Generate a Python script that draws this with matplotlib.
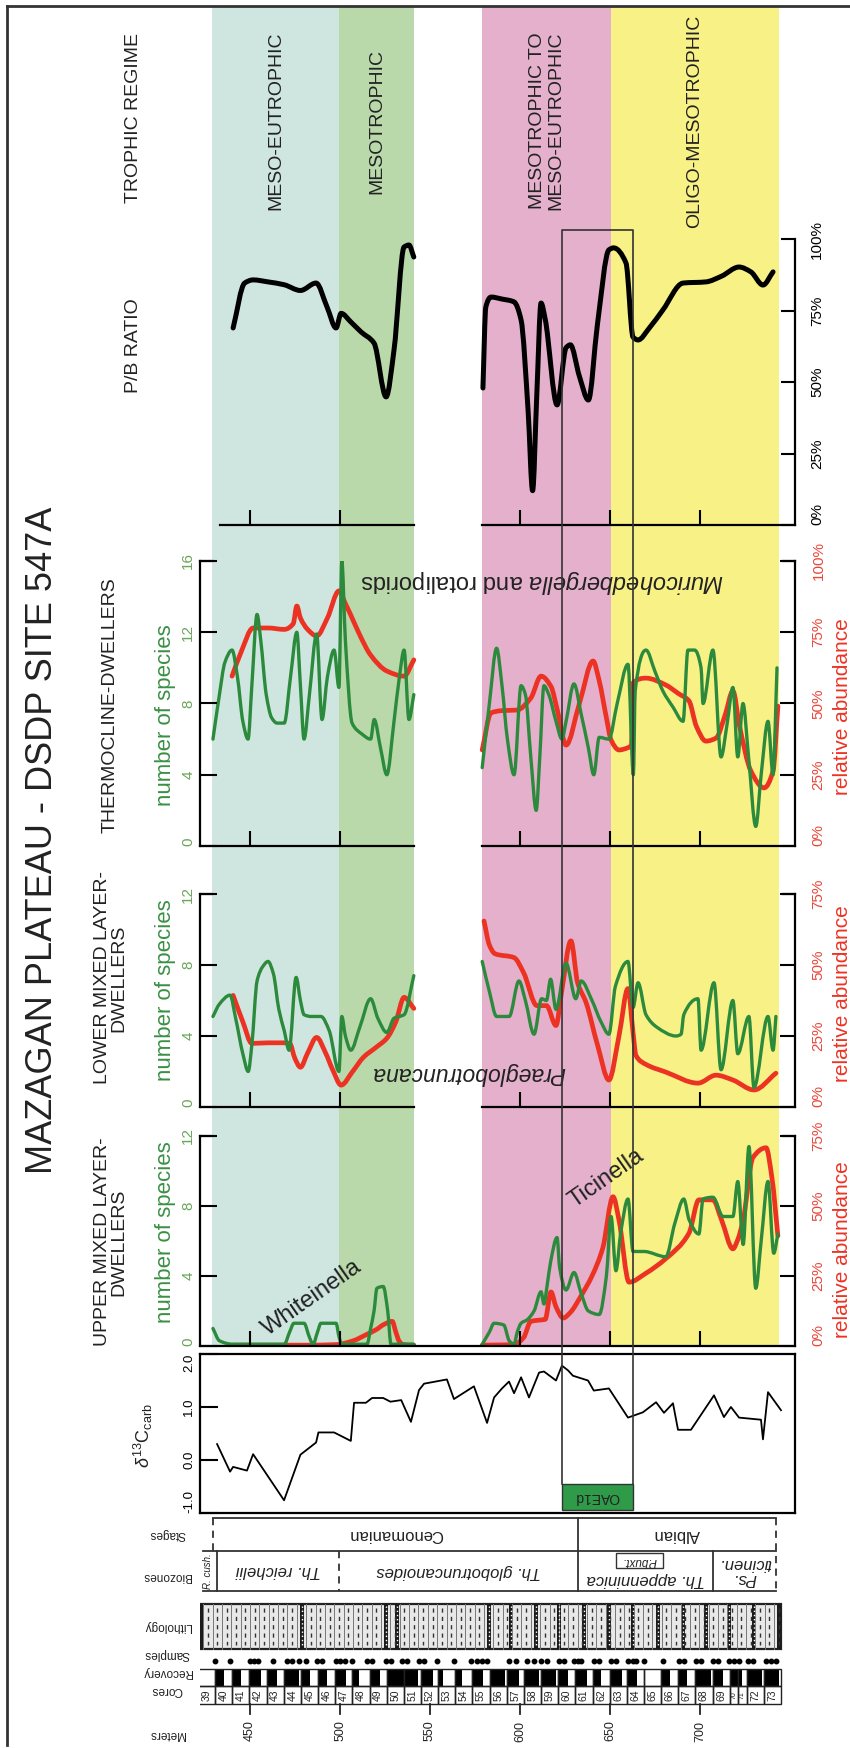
import numpy as np
import matplotlib.pyplot as plt
from matplotlib.patches import Rectangle, PathPatch
from matplotlib.path import Path
from matplotlib.lines import Line2D

plt.rcParams['font.family'] = ['Liberation Sans', 'DejaVu Sans']
plt.rcParams['mathtext.fontset'] = 'custom'
plt.rcParams['mathtext.rm'] = 'Liberation Sans'
plt.rcParams['mathtext.it'] = 'Liberation Sans:italic'

W, H = 850, 1748                 # output size in px (dpi 100)
D_MIN, D_MAX = 422.2, 752.8      # depth range shown across every track (m)
GAP = (541.0, 578.9)             # interval without foram data
DEPTH_TICKS = [450, 500, 600, 650, 700]
METER_TICKS = [450, 500, 550, 600, 650, 700]

GREEN = '#2b8a3c'
GREEN_LBL = '#3a9045'
GREEN_TICK = '#6aa55a'
RED = '#ec3323'
RED_LBL = '#e8473b'
INK = '#222222'

# =====================
# Trophic regime bands
# =====================
band_names = ['MESO-EUTROPHIC', 'MESOTROPHIC', '', 'MESOTROPHIC TO\nMESO-EUTROPHIC', 'OLIGO-MESOTROPHIC']
band_top = [428.9, 499.4, 541.0, 578.9, 650.6]
band_base = [499.4, 541.0, 578.9, 650.6, 743.9]
band_colors = ['#cfe5df', '#bad9ab', '#ffffff', '#e4b0cc', '#f8f186']

# =====================
# P/B ratio (%)
# =====================
pb_1 = [(440.6, 68.9), (447, 84.6), (451.7, 85.7), (460, 85), (469, 84), (478, 82), (486.7, 84.6),
        (492.8, 76.2), (497.8, 68.9), (500.6, 74), (506, 71), (511.7, 67.5), (518.9, 63.6),
        (525.6, 44.8), (530, 61.2), (535.6, 97.2), (538.3, 97.9), (541, 93.7)]
pb_2 = [(579.4, 47.9), (581, 76.2), (583.9, 79.7), (590, 79), (596.7, 78), (600.6, 71.7), (604.5, 40),
        (607, 12), (609.3, 45), (611.7, 77.6), (614, 72), (620.6, 42), (625.6, 62), (628, 63),
        (633, 52), (638, 43.7), (643, 70), (649.4, 96.2), (652, 96.9), (658.9, 91.6), (662.8, 65.7),
        (665.6, 64.7), (672, 69), (679.4, 75.2), (690.6, 84.6), (703.3, 85), (712, 87),
        (721.7, 90.2), (728.3, 88.5), (735, 83.9), (740.6, 88.5)]

# =====================
# Thermocline-dwellers
# =====================
th_n_1 = [(429.4, 6.0), (433, 8.5), (436, 10.3), (440, 11.0), (443, 9.5), (446, 7.0), (448.9, 6.0),
          (451, 9.0), (453.9, 13.0), (456, 11.5), (459, 8.5), (462, 7.2), (465, 6.9), (469, 6.9),
          (472.5, 9.5), (476, 12.0), (478, 9.0), (480, 6.0), (483, 8.5), (487, 11.9), (490, 7.1),
          (493, 9.5), (496.7, 11.0), (499.4, 8.9), (501, 16.0), (503, 11.5), (506.7, 6.9),
          (512, 6.3), (517, 6.0), (519, 7.1), (522.5, 5.5), (526, 4.0), (530, 7.0), (533, 9.5),
          (535.6, 11.0), (538.3, 7.1), (541, 8.5)]
th_n_2 = [(579, 4.4), (583, 8.0), (587, 11.1), (590, 9.0), (593, 6.0), (596.7, 4.0), (600.6, 9.0),
          (603, 8.5), (606, 5.0), (609, 2.0), (611, 5.0), (613.3, 9.0), (616, 8.5), (620, 7.0),
          (623.3, 6.0), (625.6, 7.0), (630, 9.1), (634, 7.4), (638, 5.5), (641, 4.0), (644, 6.1),
          (649.4, 6.0), (654, 8.0), (660, 10.2), (663, 4.0), (664, 8.7), (670, 11.0), (675, 9.8),
          (679.4, 8.7), (685, 7.8), (690.6, 7.0), (693.3, 11.0), (697, 11.0), (700.6, 10.0),
          (701.7, 8.0), (707.2, 11.0), (711.7, 5.0), (715, 6.8), (718.3, 8.9), (721, 5.0),
          (723.9, 8.0), (727, 5.0), (731, 1.1), (734, 4.0), (737.8, 7.0), (740.6, 4.0), (742.8, 10.0)]
th_p_1 = [(440, 59.6), (445, 68), (451.7, 76.5), (460, 76.5), (469, 76), (474, 78), (476, 84.2),
          (478, 80), (482, 76), (487, 73.7), (493, 80), (499.4, 89.5), (503, 85), (506, 81),
          (511, 74), (517, 67), (526, 61.4), (535.6, 59.6), (541, 65.3)]
th_p_2 = [(579, 33.7), (583.9, 46.7), (590, 47.5), (598.3, 47.7), (606, 51.9), (611.7, 59.6),
          (617.2, 56), (621, 47), (625.6, 35.4), (633, 50), (640.6, 64.9), (644, 58), (648, 45),
          (650.6, 37.2), (655, 33.7), (660, 34.5), (662, 35.5), (662.8, 57.2), (670, 58.9),
          (681, 56.5), (688, 53.5), (693.9, 50.9), (698, 42), (703.3, 36.8), (709, 37.9),
          (714, 46), (718.3, 54.4), (722, 42), (728.3, 26.3), (735.6, 20.4), (740.6, 26.3), (743.3, 49.1)]

# =====================
# Lower mixed layer-dwellers
# =====================
lo_n_1 = [(429.4, 5.1), (433, 5.8), (438.9, 6.3), (442, 5.0), (446, 3.0), (449, 2.0), (451, 3.5),
          (453.9, 7.1), (457, 7.9), (460, 8.2), (463, 7.5), (466, 5.5), (469, 4.3), (471.7, 3.2),
          (475.6, 7.3), (478, 6.0), (480, 5.2), (484, 5.1), (489.4, 5.1), (494, 4.3), (499.4, 2.0),
          (501, 5.1), (503, 4.0), (506, 3.2), (511, 4.5), (517, 6.1), (521, 5.0), (526, 4.2),
          (530, 5.0), (535.6, 5.2), (541, 7.4)]
lo_n_2 = [(579, 8.2), (583, 6.5), (587, 5.1), (594, 5.1), (599.4, 7.1), (603, 6.0), (607.8, 4.1),
          (612, 6.1), (614.7, 6.0), (617, 7.2), (620, 5.5), (625.6, 8.1), (631, 6.1), (634, 7.1),
          (640, 6.0), (645, 4.8), (649.4, 4.1), (653, 6.8), (660, 8.2), (662.8, 5.6), (665.6, 7.0),
          (670, 5.2), (676, 4.5), (686.7, 4.0), (689.5, 4.1), (691, 5.2), (698.9, 6.1), (700.6, 3.2),
          (707.8, 7.0), (711.7, 2.1), (718.3, 6.0), (721, 3.0), (727.2, 5.1), (730, 1.1),
          (737.8, 5.1), (740.6, 3.2), (742.2, 5.1)]
lo_p_1 = [(440.6, 39.3), (446, 30), (451, 22.4), (460, 22.6), (469, 22.6), (472, 22.4), (475, 17),
          (478, 14.0), (482, 19), (487, 24.5), (492, 19), (496, 13), (500.6, 7.7), (507, 12.5),
          (513, 17.5), (520, 21), (526, 24.2), (531, 30), (535.6, 38.6), (541, 34.7)]
lo_p_2 = [(580, 65.5), (583, 57), (586, 54), (596.7, 52.6), (602, 47.3), (609.4, 35.7), (614.7, 35.7),
          (620, 28.7), (623, 40), (628.3, 58.5), (632, 43.8), (636.7, 36.8), (643, 22), (649.4, 9.5),
          (655, 25), (660, 41.7), (662.8, 26.3), (664.4, 18.2), (670, 15), (681, 12.3), (698.9, 8.4),
          (708.9, 11.2), (718.3, 9.5), (730, 6.0), (742.2, 11.9)]

# =====================
# Upper mixed layer-dwellers
# =====================
up_n_1 = [(429.4, 1.0), (433, 0.3), (440.6, 0.1), (469, 0.1), (472, 0.8), (474.4, 1.3), (480, 1.3),
          (483, 0.5), (485, 0.1), (487.5, 0.8), (489.4, 1.3), (497.8, 1.3), (499.5, 0.5), (501, 0.1),
          (515, 0.1), (517, 1.0), (518.9, 2.0), (520.5, 3.3), (524, 3.4), (526.5, 2.0), (528.3, 0.1),
          (541, 0.1)]
up_n_2 = [(579, 0.1), (583, 0.8), (585.6, 1.3), (591, 1.2), (594, 0.3), (596.7, 0.1), (598.5, 0.8),
          (600.6, 1.3), (604, 1.5), (607.8, 2.0), (611.7, 3.1), (613.3, 2.4), (615, 3.4), (617, 4.8),
          (620.6, 6.2), (622, 4.5), (625.6, 3.2), (630, 4.2), (634, 3.0), (638, 2.0), (644, 1.8),
          (648, 4.0), (650.6, 7.4), (653.3, 4.3), (656, 6.5), (660, 8.4), (662.8, 5.4), (668.9, 5.4),
          (681, 5.1), (686, 7.0), (691, 8.4), (694, 7.2), (699.4, 6.4), (701.7, 8.4), (707.2, 8.5),
          (712.8, 7.4), (718.3, 7.4), (721, 9.4), (724, 5.8), (727.2, 11.4), (731, 3.3), (734, 6.0),
          (737.8, 9.4), (741, 5.3), (743.3, 6.4)]
up_p_1 = [(440.6, 0.3), (480, 0.3), (497.8, 0.5), (507, 1.8), (515, 4.2), (520, 5.8), (524.4, 7.7),
          (529, 8.8), (531, 5.0), (532.8, 1.8), (535, 0.5), (541, 0.3)]
up_p_2 = [(579, 0.3), (590, 0.4), (596.7, 0.5), (602, 3), (606, 8.8), (610, 9.2), (614, 9.5),
          (617.2, 19.3), (620, 14), (624, 10), (628, 12), (634, 18), (640, 25), (646, 35),
          (651.7, 53.3), (655, 45), (660.6, 22.8), (670, 26), (681, 31.2), (693.9, 40.3),
          (699.4, 52.2), (707.2, 52.2), (712, 45), (718.3, 34.7), (721, 38), (724, 45),
          (729.4, 67.3), (736.7, 70.8), (740, 60), (743.3, 39.3)]

# =====================
# d13C carb
# =====================
d13_depth = [431.7, 438.9, 440.6, 448.3, 451.7, 468.9, 478, 486.7, 488, 496.7, 506, 507.8, 514.4,
             517.8, 524, 528, 534, 539.4, 543.9, 546.7, 559.4, 563.3, 574.4, 581.7, 585.6, 590,
             593.9, 596.7, 600.6, 605, 610.6, 613.3, 620, 623.3, 626.7, 629.4, 637.8, 641, 649.4,
             660, 668.3, 675.6, 680, 685, 687.8, 695, 707.8, 713.3, 717.2, 721.7, 733.9, 735,
             737.8, 745]
d13_val = [0.30, -0.22, -0.13, -0.20, 0.11, -0.76, 0.10, 0.33, 0.52, 0.52, 0.36, 1.08, 1.08,
           1.17, 1.17, 1.10, 1.13, 0.72, 1.32, 1.44, 1.52, 1.15, 1.39, 0.70, 1.18, 1.35,
           1.48, 1.26, 1.56, 1.18, 1.65, 1.67, 1.50, 1.78, 1.69, 1.59, 1.50, 1.31, 1.35,
           0.80, 0.90, 1.09, 0.89, 1.07, 0.57, 0.57, 1.22, 0.81, 1.00, 0.80, 0.76, 0.39,
           1.28, 0.94]
OAE = (623.3, 662.8)

# =====================
# Stratigraphic columns
# =====================
stage_names = ['Cenomanian', 'Albian']
stage_top = [429.4, 632.2]
stage_base = [632.2, 742.2]
zone_names = ['Th. reichelii', 'Th. globotruncanoides', 'Th. appenninica', 'Ps.\nticinen.']
zone_top = [431.7, 499.4, 632.2, 707.2]
zone_base = [499.4, 632.2, 707.2, 742.2]
litho_beds = [478.9, 525.6, 531.7, 582.8, 595.0, 608.9, 621.7, 635.6, 649.4, 662.8,
              676.7, 690.6, 703.3, 716.1, 730.0]
samples = [430.6, 438.9, 450, 452.2, 454.4, 462.8, 470.6, 473.3, 477.2, 481.1, 487.2, 490,
           497.8, 500, 502.8, 506.7, 515, 517.8, 525.6, 528.3, 534.4, 537.2, 543.9, 546.7,
           553.9, 563.3, 572.8, 576.1, 578.9, 581.7, 593.9, 597.8, 603.9, 607.8, 611.7, 615,
           621.7, 624.4, 630, 632.2, 633.9, 641.1, 643.9, 650.6, 653.3, 660, 662.8, 664.4,
           668.9, 679.4, 688.3, 691.1, 697.8, 700.6, 707.2, 710, 716.1, 718.9, 721.7, 726.7,
           729.4, 736.7, 739.4, 742.2]
cores = list(range(39, 74))
core_top = [421.1, 430.6, 440.2, 449.7, 459.2, 468.8, 478.3, 487.8, 497.3, 506.9, 516.4, 525.9,
            535.4, 545.0, 554.5, 564.0, 573.6, 583.1, 592.6, 602.1, 611.7, 621.2, 630.7, 640.3,
            649.8, 659.3, 668.8, 678.4, 687.9, 697.4, 707.0, 716.5, 721.2, 726.0, 735.5]
core_bottom_end = 745.0
recovery = [0.0, 0.5, 0.5, 0.7, 0.6, 0.9, 0.5, 0.5, 0.6, 0.4, 0.6, 1.0, 0.8, 0.7, 0.3, 0.4, 0.6,
            0.9, 0.7, 0.9, 0.9, 0.6, 0.7, 0.5, 0.7, 0.6, 0.0, 0.5, 0.5, 0.9, 0.6, 1.0, 0.5, 0.9, 0.9]

# =====================
# Figure helpers
# =====================
fig = plt.figure(figsize=(W / 100, H / 100), dpi=100)


def axes_px(top, bot, left=200, right=795):
    return fig.add_axes([left / W, 1 - bot / H, (right - left) / W, (bot - top) / H])


def ftext(x, y, s, rot=90, **kw):
    fig.text(x / W, 1 - y / H, s, rotation=rot, ha='center', va='center', **kw)


def fline(xs, ys, **kw):
    fig.add_artist(Line2D([x / W for x in xs], [1 - y / H for y in ys], **kw))


def smooth_curve(ax, pairs, color, lw):
    # draw the read points as a monotone cubic Bezier path (like the hand-smoothed original)
    a = np.array(pairs, dtype=float)
    x, y = a[:, 0], a[:, 1]
    h = np.diff(x)
    m = np.diff(y) / h
    d = np.zeros_like(y)
    d[0], d[-1] = m[0], m[-1]
    for k in range(1, len(x) - 1):
        if m[k - 1] * m[k] > 0:
            w1 = 2 * h[k] + h[k - 1]
            w2 = h[k] + 2 * h[k - 1]
            d[k] = (w1 + w2) / (w1 / m[k - 1] + w2 / m[k])
    verts = [(x[0], y[0])]
    codes = [Path.MOVETO]
    for k in range(len(x) - 1):
        verts += [(x[k] + h[k] / 3, y[k] + d[k] * h[k] / 3),
                  (x[k + 1] - h[k] / 3, y[k + 1] - d[k + 1] * h[k] / 3),
                  (x[k + 1], y[k + 1])]
        codes += [Path.CURVE4] * 3
    ax.add_patch(PathPatch(Path(verts, codes), fc='none', ec=color, lw=lw,
                           capstyle='round', joinstyle='round'))


def rot_labels(ax, ha, first='bottom', last='center'):
    labs = ax.get_yticklabels()
    for lab in labs:
        lab.set_rotation(90)
        lab.set_va('center')
        lab.set_ha(ha)
    labs[0].set_va(first)
    labs[-1].set_va(last)


# background bands
ax_bg = axes_px(6, 1346)
ax_bg.set_xlim(D_MIN, D_MAX)
ax_bg.set_ylim(1346, 6)
ax_bg.axis('off')
ax_bg.set_zorder(0)
for name, t, b, c in zip(band_names, band_top, band_base, band_colors):
    ax_bg.axvspan(t, b, color=c, lw=0)
    if name:
        ax_bg.text((t + b) / 2, 121, name, rotation=90, ha='center', va='center',
                   fontsize=14, color=INK, linespacing=1.1, multialignment='center')

# P/B ratio
ax_pb = axes_px(239, 525)
ax_pb.set_facecolor('none')
ax_pb.set_zorder(2)
ax_pb.set_xlim(D_MIN, D_MAX)
ax_pb.set_ylim(0, 100)
for seg in (pb_1, pb_2):
    smooth_curve(ax_pb, seg, 'black', 3.6)
for s in ('left', 'top', 'bottom'):
    ax_pb.spines[s].set_visible(False)
ax_pb.spines['right'].set_linewidth(1.6)
ax_pb.yaxis.tick_right()
ax_pb.set_yticks([0, 25, 50, 75, 100])
ax_pb.set_yticklabels(['0%', '25%', '50%', '75%', '100%'])
ax_pb.tick_params(axis='y', direction='in', length=10, width=1.5, pad=11, labelsize=11)
rot_labels(ax_pb, 'left')
ax_pb.set_xticks(DEPTH_TICKS)
ax_pb.tick_params(axis='x', direction='in', length=11, width=1.5, labelbottom=False)
ax_pb.plot([433.3, GAP[0]], [0, 0], color='black', lw=1.6, clip_on=False)
ax_pb.plot([GAP[1], D_MAX], [0, 0], color='black', lw=1.6, clip_on=False)


def species_track(top, bot, nmax, pmax, nticks, pticks, n_segs, p_segs, broken=True):
    ax = axes_px(top, bot)
    ax.set_facecolor('none')
    ax.set_xlim(D_MIN, D_MAX)
    ax.set_ylim(0, nmax)
    axr = ax.twinx()
    axr.set_ylim(0, pmax)
    ax.set_zorder(3)
    axr.set_zorder(2)
    for seg in p_segs:
        smooth_curve(axr, seg, RED, 3.4)
    for seg in n_segs:
        smooth_curve(ax, seg, GREEN, 2.4)
    for s in ('top', 'bottom', 'right'):
        ax.spines[s].set_visible(False)
    for s in ('top', 'bottom', 'left'):
        axr.spines[s].set_visible(False)
    ax.spines['left'].set_linewidth(1.6)
    axr.spines['right'].set_linewidth(1.6)
    ax.set_yticks(nticks)
    ax.tick_params(axis='y', direction='in', length=12, width=1.5, pad=3.5,
                   labelsize=11, labelcolor=GREEN_TICK)
    rot_labels(ax, 'right')
    axr.set_yticks(pticks)
    axr.set_yticklabels([f'{p}%' for p in pticks])
    axr.tick_params(axis='y', direction='in', length=11, width=1.5, pad=12,
                    labelsize=11, labelcolor=RED_LBL)
    rot_labels(axr, 'left')
    ax.set_xticks(DEPTH_TICKS)
    ax.tick_params(axis='x', direction='in', length=11, width=1.5, labelbottom=False)
    if broken:
        ax.plot([D_MIN, GAP[0]], [0, 0], color='black', lw=1.6, clip_on=False)
        ax.plot([GAP[1], D_MAX], [0, 0], color='black', lw=1.6, clip_on=False)
    else:
        ax.plot([D_MIN, D_MAX], [0, 0], color='black', lw=1.6, clip_on=False)
    fline([200, 212], [top, top], color='black', lw=1.6)
    fline([783, 795], [top, top], color='black', lw=1.6)
    return ax


species_track(561, 846, 16, 100, [0, 4, 8, 12, 16], [0, 25, 50, 75, 100],
              [th_n_1, th_n_2], [th_p_1, th_p_2])
species_track(894, 1107, 12, 75, [0, 4, 8, 12], [0, 25, 50, 75],
              [lo_n_1, lo_n_2], [lo_p_1, lo_p_2])
species_track(1136, 1346, 12, 75, [0, 4, 8, 12], [0, 25, 50, 75],
              [up_n_1, up_n_2], [up_p_1, up_p_2], broken=False)

# d13C
ax_c = axes_px(1354, 1513)
ax_c.set_facecolor('white')
ax_c.set_zorder(2)
ax_c.set_xlim(D_MIN, D_MAX)
ax_c.set_ylim(-1, 2)
ax_c.plot(d13_depth, d13_val, color='black', lw=1.3)
for s in ax_c.spines.values():
    s.set_linewidth(1.6)
ax_c.set_xticks([])
ax_c.set_yticks([-1, 0, 1, 2])
ax_c.set_yticklabels(['-1.0', '0.0', '1.0', '2.0'])
ax_c.tick_params(axis='y', direction='in', length=13, width=1.5, pad=3.5, labelsize=9.5)
rot_labels(ax_c, 'right', first='bottom', last='top')

# overlay: OAE box and stratigraphic columns (y in px)
ax_o = axes_px(0, H)
ax_o.set_xlim(D_MIN, D_MAX)
ax_o.set_ylim(H, 0)
ax_o.axis('off')
ax_o.set_zorder(6)
ax_o.plot([OAE[0], OAE[0], OAE[1], OAE[1]], [1484, 230, 230, 1484], color='#333333', lw=1.2)
ax_o.add_patch(Rectangle((OAE[0], 1484), OAE[1] - OAE[0], 26, fc='#2f9a48', ec='#333333', lw=1.0))
ax_o.text(sum(OAE) / 2, 1497, 'OAE1d', rotation=180, ha='center', va='center', fontsize=10, color=INK)

# stages and biozones
for y in (1518, 1551, 1591):
    ax_o.plot([424.0 if y > 1518 else 429.4, 742.2], [y, y], color='#333333', lw=1.3)
ax_o.plot([429.4, 429.4], [1518, 1551], color='#333333', lw=1.3, ls=(0, (4, 3)))
ax_o.plot([742.2, 742.2], [1518, 1591], color='#333333', lw=1.3, ls=(0, (4, 3)))
ax_o.plot([632.2, 632.2], [1518, 1591], color='#333333', lw=1.3)
for name, t, b in zip(stage_names, stage_top, stage_base):
    ax_o.text((t + b) / 2, 1535, name, rotation=180, ha='center', va='center', fontsize=12, color=INK)
ax_o.plot([431.7, 431.7], [1551, 1591], color='#333333', lw=1.3)
ax_o.plot([499.4, 499.4], [1551, 1591], color='#333333', lw=1.3, ls=(0, (4, 3)))
ax_o.plot([707.2, 707.2], [1551, 1591], color='#333333', lw=1.3)
for name, t, b in zip(zone_names, zone_top, zone_base):
    yy = 1580 if name.startswith('Th. app') else 1571
    ax_o.text((t + b) / 2, yy, name, rotation=180, ha='center', va='center', fontsize=12,
              style='italic', color=INK, linespacing=1.0)
ax_o.text(426.8, 1571, 'R. cush.', rotation=90, ha='center', va='center', fontsize=7,
          style='italic', color=INK)
ax_o.add_patch(Rectangle((653.3, 1553), 26.1, 15, fc='none', ec='#333333', lw=1.0))
ax_o.text(666.3, 1560.5, 'P.buxt.', rotation=180, ha='center', va='center', fontsize=8.5,
          style='italic', color=INK)

# lithology
ax_o.add_patch(Rectangle((422.2, 1604), 745.0 - 422.2, 45, fc='#e8e8e8', ec='#222222', lw=1.6))
for x in np.arange(424.0, 745.0, 5.2):
    ax_o.plot([x, x], [1604, 1649], color='#777777', lw=0.7)
    ax_o.plot([x + 2.6, x + 2.6], [1608, 1645], color='#333333', lw=1.0, ls=(0, (3, 3)))
for x in litho_beds:
    ax_o.add_patch(Rectangle((x - 1.1, 1604), 2.2, 45, fc='#1a1a1a', ec='none'))
    ax_o.plot([x, x], [1606, 1647], color='white', lw=1.0, ls=(0, (1, 2)))
ax_o.add_patch(Rectangle((422.2, 1604), 2.0, 45, fc='#1a1a1a', ec='none'))
ax_o.add_patch(Rectangle((743.0, 1604), 2.0, 45, fc='#1a1a1a', ec='none'))

# samples
ax_o.plot(samples, [1661] * len(samples), 'o', color='black', ms=3.2)

# recovery and cores
core_edges = core_top + [core_bottom_end]
for i, c in enumerate(cores):
    t, b = core_edges[i], core_edges[i + 1]
    if recovery[i] > 0:
        ax_o.add_patch(Rectangle((t, 1669), (b - t) * recovery[i], 17, fc='black', ec='none'))
    ax_o.add_patch(Rectangle((t, 1669), b - t, 17, fc='none', ec='#222222', lw=1.0))
    ax_o.add_patch(Rectangle((t, 1686), b - t, 18, fc='none', ec='#222222', lw=1.0))
    ax_o.text((t + b) / 2, 1695, str(c), rotation=90, ha='center', va='center',
              fontsize=5 if c in (70, 71) else 7.5, color=INK)

# meters
for m in METER_TICKS:
    ax_o.plot([m, m], [1704, 1714], color='#222222', lw=1.3)
    ax_o.text(m, 1731, str(m), rotation=90, ha='center', va='center', fontsize=9, color=INK)

# =====================
# Labels
# =====================
ftext(43, 840, 'MAZAGAN PLATEAU - DSDP SITE 547A', fontsize=26, color=INK)
ftext(133, 118, 'TROPHIC REGIME', fontsize=14, color=INK)
ftext(133, 346, 'P/B RATIO', fontsize=14, color=INK)
ftext(110, 705, 'THERMOCLINE-DWELLERS', fontsize=14, color=INK)
ftext(111, 978, 'LOWER MIXED LAYER-\nDWELLERS', fontsize=14, color=INK, linespacing=0.95,
      multialignment='center')
ftext(111, 1242, 'UPPER MIXED LAYER-\nDWELLERS', fontsize=14, color=INK, linespacing=0.95,
      multialignment='center')
for yc in (715, 990, 1232):
    ftext(165, yc, 'number of species', fontsize=16, color=GREEN_LBL)
for yc in (707, 994, 1250):
    ftext(843, yc, 'relative abundance', fontsize=15, color=RED)
ftext(143, 1436, r'$\delta^{13}$C$_{\mathrm{carb}}$', fontsize=13, color=INK)

ftext(542, 582, r'$\mathit{Muricohedbergella}$ and rotaliporids', rot=180, fontsize=17, color=INK)
ftext(468, 1074, 'Praeglobotruncana', rot=180, fontsize=16.5, style='italic', color=INK)
ftext(312, 1298, 'Whiteinella', rot=35, fontsize=17, color=INK)
ftext(606, 1178, 'Ticinella', rot=35, fontsize=17, color=INK)

col_labels = ['Stages', 'Biozones', 'Lithology', 'Samples', 'Recovery', 'Cores', 'Meters']
col_y = [1534, 1576, 1626, 1654, 1672, 1690, 1734]
for lab, yc in zip(col_labels, col_y):
    ftext(167, yc, lab, rot=180, fontsize=8.5, color=INK)

# frame
fline([7, 7], [6, 1745], color='#333333', lw=2)
fline([7, 850], [6, 6], color='#333333', lw=2)

fig.savefig('out.png', dpi=100)
